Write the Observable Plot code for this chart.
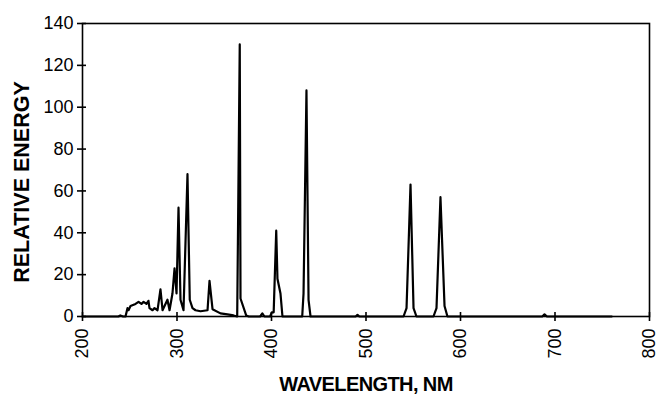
<!DOCTYPE html>
<html>
<head>
<meta charset="utf-8">
<script src="https://cdn.jsdelivr.net/npm/d3@7"></script>
<script src="https://cdn.jsdelivr.net/npm/@observablehq/plot@0.6"></script>
<style>
  html, body { margin: 0; padding: 0; background: #fff; }
  #chart svg { font-family: "Liberation Sans", Arial, sans-serif; }
  #chart g[aria-label="x-axis label"] text { font-weight: bold; font-size: 20px; letter-spacing: -0.6px; }
</style>
</head>
<body>
<div id="chart"></div>
<script>
// Spectrum readings (wavelength in nm, relative energy)
const wavelength = [
  200, 236, 238, 240, 243, 245.5, 247.6, 248.7, 250.8, 256.1, 259.3, 262.4, 264.6, 267.7, 269.8,
  270.9, 274.1, 276.2, 279.4, 282.5, 284.7, 286.8, 289.9, 292.1, 295.2, 297.4, 299.5, 301.6,
  303.7, 306.9, 311.1, 313.5, 316.4, 319.6, 324.9, 332.3, 334.4, 337.6, 346, 353.4, 359.8, 363.7,
  366.4, 367.2, 373.2, 376, 388, 390.3, 392.5, 398.5, 400.3, 402.3, 405, 406.3, 409.5, 411.6,
  432.5, 433.9, 437, 439.2, 441.3, 489, 491, 493, 539.7, 542.9, 547.1, 550.3, 553.4,
  571.4, 574.6, 578.8, 583.1, 586.2, 686.5, 688.9, 691.5, 760
];
const energy = [
  0, 0, 0, 0.5, 0, 0, 4, 3, 5, 6, 7, 6, 7, 6, 7.5,
  4, 3, 4, 3, 13, 3, 5, 8, 3, 11, 23, 11, 52,
  8, 3, 68, 8, 4, 3, 2.5, 3, 17, 3.5, 1.5, 1, 0.5, 0,
  130, 8.6, 0.5, 0, 0, 1.5, 0, 0, 2, 2, 41, 18, 11, 0,
  0, 11, 108, 8, 0, 0, 0.8, 0, 0, 4, 63, 4, 0,
  0, 4, 57, 5, 0, 0, 1, 0, 0
];
const xTicks = [200, 300, 400, 500, 600, 700, 800];
const yTicks = [0, 20, 40, 60, 80, 100, 120, 140];
const xTitle = "WAVELENGTH, NM";
const yTitle = "RELATIVE ENERGY";

const data = wavelength.map((w, i) => ({w, e: energy[i]}));

const chart = Plot.plot({
  width: 659,
  height: 401,
  marginLeft: 82,
  marginRight: 10,
  marginTop: 23,
  marginBottom: 85,
  style: {fontSize: "18px", color: "#000", background: "#fff"},
  x: {domain: [200, 800]},
  y: {domain: [0, 140]},
  marks: [
    Plot.frame({stroke: "#000", strokeWidth: 1.6}),
    // crossing tick marks
    Plot.axisX({ticks: xTicks, tickSize: 9, dy: -4, tickFormat: () => "", label: null, strokeWidth: 1.6}),
    Plot.axisY({ticks: yTicks, tickSize: 9, dx: 4, tickFormat: () => "", label: null, strokeWidth: 1.6}),
    // labels
    Plot.axisX({ticks: xTicks, tickSize: 0, tickPadding: 12, tickRotate: -90, fontSize: 18,
                label: xTitle, labelAnchor: "center", labelOffset: 74, labelArrow: "none"}),
    Plot.axisY({ticks: yTicks, tickSize: 0, tickPadding: 9, fontSize: 18, label: null}),
    Plot.text([yTitle], {text: d => d, frameAnchor: "left", rotate: -90, dx: -60, dy: 12,
                         fontSize: 21.5, fontWeight: "bold", textAnchor: "middle", fill: "#000"}),
    Plot.line(data, {x: "w", y: "e", stroke: "#000", strokeWidth: 2.2, curve: "linear"})
  ]
});
document.getElementById("chart").append(chart);
</script>
</body>
</html>
